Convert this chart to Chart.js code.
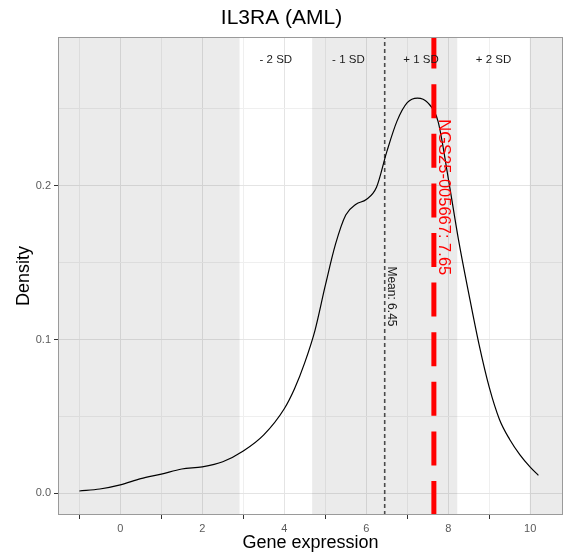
<!DOCTYPE html>
<html>
<head>
<meta charset="utf-8">
<script src="https://cdn.jsdelivr.net/npm/chart.js@4"></script>
<style>
  html, body { margin: 0; padding: 0; background: #fff; }
</style>
</head>
<body>
<canvas id="densityChart" width="569" height="558"></canvas>
<script>
// density curve
const expr = [-1, -0.5, 0, 0.5, 1, 1.5, 2, 2.5, 3, 3.5, 4, 4.25, 4.5, 4.75, 5, 5.25, 5.5, 5.75, 6, 6.25,
  6.5, 6.75, 7, 7.25, 7.5, 7.75, 8, 8.25, 8.5, 8.75, 9, 9.25, 9.5, 9.75, 10, 10.2];
const density = [0.0015, 0.0028, 0.0055, 0.0095, 0.0125, 0.0158, 0.0172, 0.0205, 0.0275, 0.038, 0.055, 0.068,
  0.085, 0.106, 0.135, 0.162, 0.181, 0.188, 0.191, 0.199, 0.222, 0.242, 0.254, 0.257, 0.254, 0.242, 0.205,
  0.165, 0.13, 0.097, 0.069, 0.048, 0.035, 0.025, 0.017, 0.0117];

const meanValue = 6.45;
const sdValue = 1.77;
const sampleId = 'NGS25-005667';
const sampleValue = 7.65;
const sdLabels = ['- 2 SD', '- 1 SD', '+ 1 SD', '+ 2 SD'];

const xTickLabels = [0, 2, 4, 6, 8, 10];
const yTickLabels = [0, 0.1, 0.2];

const xMin = -1.52, xMax = 10.8;
const yMin = -0.0141, yMax = 0.2967;

const FONT = '"Liberation Sans", Arial, Helvetica, sans-serif';

// SD bands + labels, border, annotations
const sdPlugin = {
  id: 'sdBands',
  beforeDatasetsDraw(chart) {
    const { ctx, chartArea: a, scales: { x } } = chart;
    const px = v => x.getPixelForValue(v);
    const lo2 = px(meanValue - 2 * sdValue), lo1 = px(meanValue - sdValue);
    const hi1 = px(meanValue + sdValue), hi2 = px(meanValue + 2 * sdValue);
    ctx.save();
    ctx.fillStyle = 'rgba(0,0,0,0.08)';
    ctx.fillRect(a.left, a.top, lo2 - a.left, a.bottom - a.top);
    ctx.fillRect(lo1, a.top, hi1 - lo1, a.bottom - a.top);
    ctx.fillRect(hi2, a.top, a.right - hi2, a.bottom - a.top);
    ctx.restore();
  },
  afterDatasetsDraw(chart) {
    const { ctx, chartArea: a, scales: { x, y } } = chart;
    ctx.save();
    // sd labels, centred in each band
    const bounds = [-2, -1, 0, 1, 2].map(k => meanValue + k * sdValue);
    ctx.font = '11.5px ' + FONT;
    ctx.fillStyle = '#1a1a1a';
    ctx.textAlign = 'center';
    ctx.textBaseline = 'middle';
    sdLabels.forEach((t, i) => {
      ctx.fillText(t, x.getPixelForValue((bounds[i] + bounds[i + 1]) / 2), y.getPixelForValue(0.282));
    });

    // mean label
    ctx.save();
    ctx.translate(x.getPixelForValue(meanValue) + 6.5, y.getPixelForValue(0.128));
    ctx.rotate(Math.PI / 2);
    ctx.font = '12px ' + FONT;
    ctx.fillStyle = '#1a1a1a';
    ctx.fillText('Mean: ' + meanValue.toFixed(2), 0, 0);
    ctx.restore();

    // sample label
    ctx.save();
    ctx.translate(x.getPixelForValue(sampleValue) + 9.5, y.getPixelForValue(0.1925));
    ctx.rotate(Math.PI / 2);
    ctx.font = '16.5px ' + FONT;
    ctx.fillStyle = '#ff0000';
    ctx.fillText(sampleId + ': ' + sampleValue.toFixed(2), 0, 0);
    ctx.restore();

    // panel border
    ctx.strokeStyle = '#9a9a9a';
    ctx.lineWidth = 1;
    ctx.strokeRect(a.left + 0.5, a.top + 0.5, a.right - a.left - 1, a.bottom - a.top - 1);
    ctx.restore();
  }
};

const ctx = document.getElementById('densityChart');

new Chart(ctx, {
  type: 'line',
  data: {
    datasets: [
      {
        label: sampleId,
        data: [{ x: sampleValue, y: yMin }, { x: sampleValue, y: yMax }],
        borderColor: '#ff0000',
        borderWidth: 5,
        borderDash: [34, 15.6],
        borderCapStyle: 'butt',
        pointRadius: 0
      },
      {
        label: 'density',
        data: expr.map((v, i) => ({ x: v, y: density[i] })),
        borderColor: '#000000',
        borderWidth: 1.2,
        pointRadius: 0,
        cubicInterpolationMode: 'monotone'
      },
      {
        label: 'mean',
        data: [{ x: meanValue, y: yMin }, { x: meanValue, y: yMax }],
        borderColor: '#4a4a4a',
        borderWidth: 1.6,
        borderDash: [4, 3],
        pointRadius: 0
      }
    ]
  },
  options: {
    responsive: false,
    animation: false,
    devicePixelRatio: 1,
    layout: { padding: { left: 0, right: 6, top: 0, bottom: 0 } },
    plugins: {
      legend: { display: false },
      tooltip: { enabled: false },
      title: {
        display: true,
        text: 'IL3RA (AML)',
        color: '#000',
        font: { family: FONT, size: 21, weight: 'normal' },
        padding: { top: 5.5, bottom: 6.3 }
      }
    },
    scales: {
      x: {
        type: 'linear',
        min: xMin,
        max: xMax,
        afterBuildTicks: s => {
          const t = [];
          for (let v = -1; v <= 10; v++) t.push({ value: v });
          s.ticks = t;
        },
        afterFit: s => { s.height = 43; },
        border: { display: false },
        grid: {
          color: c => (c.tick && c.tick.value % 2 === 0) ? '#e4e4e4' : '#efefef',
          lineWidth: 1,
          tickLength: 4,
          tickColor: c => (c.tick && Math.abs(c.tick.value % 2) === 1) ? '#333333' : 'rgba(0,0,0,0)'
        },
        ticks: {
          color: '#5a5a5a',
          font: { family: FONT, size: 11 },
          padding: 3,
          maxRotation: 0,
          autoSkip: false,
          callback: v => xTickLabels.includes(v) ? String(v) : ''
        },
        title: {
          display: true,
          text: 'Gene expression',
          color: '#000',
          font: { family: FONT, size: 18 },
          padding: { top: 0, bottom: 4 }
        }
      },
      y: {
        type: 'linear',
        min: yMin,
        max: yMax,
        afterBuildTicks: s => {
          s.ticks = [0, 0.05, 0.1, 0.15, 0.2, 0.25].map(v => ({ value: v }));
        },
        afterFit: s => { s.width = 58; },
        border: { display: false },
        grid: {
          color: c => (c.tick && yTickLabels.some(t => Math.abs(t - c.tick.value) < 1e-9)) ? '#e4e4e4' : '#efefef',
          lineWidth: 1,
          tickLength: 4,
          tickColor: c => (c.tick && yTickLabels.some(t => Math.abs(t - c.tick.value) < 1e-9)) ? '#333333' : 'rgba(0,0,0,0)'
        },
        ticks: {
          color: '#5a5a5a',
          font: { family: FONT, size: 11 },
          padding: 3,
          autoSkip: false,
          callback: v => yTickLabels.some(t => Math.abs(t - v) < 1e-9) ? v.toFixed(1) : ''
        },
        title: {
          display: true,
          text: 'Density',
          color: '#000',
          font: { family: FONT, size: 18 },
          padding: { top: 13, bottom: 0 }
        }
      }
    }
  },
  plugins: [sdPlugin]
});
</script>
</body>
</html>
